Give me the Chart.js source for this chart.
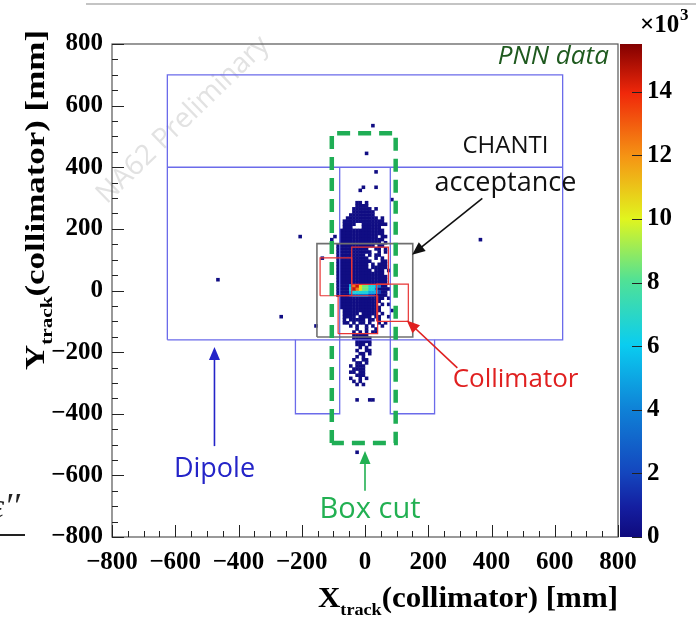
<!DOCTYPE html>
<html>
<head>
<meta charset="utf-8">
<script src="https://cdn.jsdelivr.net/npm/chart.js@4.4.0/dist/chart.umd.min.js"></script>
<style>
html, body { margin: 0; padding: 0; background: #fff; }
</style>
</head>
<body>
<canvas id="myChart" width="696" height="619"></canvas>
<script>
// track positions at the collimator, 10 mm bins
var binSize = 10;
var gridLeft = -110;   // left edge of column 0
var gridTop = 340;     // top edge of row 0
// one string per row of bins, top to bottom; '.' = empty, digits = count level
var cellRows = [
    "..........1...1......",
    ".........1...........",
    ".....................",
    ".....................",
    "...................1.",
    "........11.1.........",
    "........1111.........",
    ".......111111.1......",
    ".......1111111.......",
    "......11111111.......",
    ".....1111111111.1....",
    "....1111111111111....",
    "....1111..11111111...",
    "....111...111111.....",
    "...11111111111111....",
    "...11111111111111....",
    ".1.111111111111.11...",
    "1..11111111111111....",
    "...1111111111111.1...",
    "..111111111111.11....",
    "1.1111111111..11.1...",
    "..11111111111..1.1...",
    "..111111111.1.11.....",
    "..1111111111..1.1....",
    "..11111111111...11...",
    "..1111111111.1.111...",
    "..1111111111.11111...",
    "..11111111111.111.1..",
    "..111111111111111....",
    "..1111111111111111...",
    "..1111111111111111...",
    "..1111111111111111...",
    "..1111489766554311...",
    "..11115987665531111..",
    "..1111455555444211...",
    "..1111233333221111...",
    "...11111111111111.1..",
    "...1111111111111.....",
    "...111111111111.1.1..",
    "...1111111111111.....",
    "....111111111111...1.",
    "....11111.11111.1....",
    "....1111.1111.11..1..",
    "....1.11111.11.1.....",
    "....11.1.11.1..1.1...",
    "......1.1..1.1..1....",
    "........1..1..1......",
    ".......1.1.1.11......",
    ".......11111.........",
    ".......111111........",
    "........11111........",
    "........111.1........",
    ".........1.1.........",
    "........1..11........",
    ".........11.1........",
    "........1.1..........",
    ".......1..11.........",
    "........11.1.........",
    "......1.111..........",
    ".......1111..........",
    "......11.11..........",
    "........111..........",
    "......1..1.1.........",
    ".......1.1...........",
    "........1.1..........",
    ".....................",
    ".....................",
    ".....................",
    ".....................",
    "........1...11......."
];
// entries per bin for each level character
var levelCounts = { "1": 150, "2": 1800, "3": 3500, "4": 5000, "5": 6500, "6": 8500, "7": 10500, "8": 12500, "9": 14500 };
// isolated bins outside the main cloud [x, y, entries]
var strayCells = [
    [25, 535, 150], [5, 445, 150], [35, 385, 150], [-465, 35, 150], [-205, 175, 150],
    [365, 165, 150], [-265, -85, 150], [-155, -115, 150], [-135, 105, 150], [-25, -525, 150]
];

// axis ticks (mm) and colour scale ticks (x10^3 entries)
var axisTicks = [-800, -600, -400, -200, 0, 200, 400, 600, 800];
var zTicks = [0, 2, 4, 6, 8, 10, 12, 14];
var zMax = 15500;

// detector outlines in mm
var dipoleOuter = [[-625, -160], [-625, 700], [625, 700], [625, -160], [-625, -160]];
var dipoleMid = [[-625, 400], [625, 400]];
var dipoleLeft = [[-220, -160], [-220, -400], [-80, -400], [-80, 400]];
var dipoleRight = [[220, -160], [220, -400], [80, -400], [80, 400]];
var chantiBox = [-152, -151, 151, 152];          // x1, y1, x2, y2
var collimatorBoxes = [
    [-142, -17, -42, 106],
    [-42, 20, 74, 141],
    [37, -100, 137, 21],
    [-85, -140, 40, -17]
];
var boxCut = [-105, -495, 97, 510];

// ROOT style rainbow palette
var paletteStops = [
    [0.00, [15, 10, 125]],
    [0.06, [20, 30, 160]],
    [0.13, [20, 70, 190]],
    [0.26, [15, 130, 215]],
    [0.39, [10, 205, 240]],
    [0.52, [80, 225, 150]],
    [0.645, [225, 245, 30]],
    [0.77, [245, 150, 20]],
    [0.90, [240, 40, 10]],
    [1.00, [130, 0, 0]]
];
function rgb(c) { return "rgb(" + c[0] + "," + c[1] + "," + c[2] + ")"; }
function countColor(v) {
    var t = Math.max(0, Math.min(v / zMax, 1));
    for (var i = 1; i < paletteStops.length; i++) {
        var a = paletteStops[i - 1], b = paletteStops[i];
        if (t <= b[0]) {
            var f = (t - a[0]) / (b[0] - a[0]);
            return rgb([0, 1, 2].map(function (k) { return Math.round(a[1][k] + f * (b[1][k] - a[1][k])); }));
        }
    }
    return rgb(paletteStops[paletteStops.length - 1][1]);
}

// bins -> points
var cellData = [];
cellRows.forEach(function (row, r) {
    for (var c = 0; c < row.length; c++) {
        var ch = row.charAt(c);
        if (!levelCounts[ch]) continue;
        cellData.push({ x: gridLeft + binSize * (c + 0.5), y: gridTop - binSize * (r + 0.5), v: levelCounts[ch] });
    }
});
strayCells.forEach(function (s) { cellData.push({ x: s[0], y: s[1], v: s[2] }); });
cellData.sort(function (a, b) { return a.v - b.v; });

function pathData(pts) { return pts.map(function (p) { return { x: p[0], y: p[1] }; }); }
function rectPath(r) { return pathData([[r[0], r[1]], [r[0], r[3]], [r[2], r[3]], [r[2], r[1]], [r[0], r[1]]]); }
function outline(pts, color, width, order, dash) {
    return {
        data: pts, showLine: true, borderColor: color, borderWidth: width, borderDash: dash || [],
        pointRadius: 0, fill: false, tension: 0, order: order
    };
}
function cellRadius(chart) {
    var s = chart.scales.x;
    var w = Math.abs(s.getPixelForValue(binSize) - s.getPixelForValue(0));
    return w / 2 / Math.SQRT1_2 + 0.3;
}
function minusLabel(v) { return v < 0 ? "\u2212" + Math.abs(v) : "" + v; }

var datasets = [];
datasets.push(outline(rectPath(boxCut), "#1fae55", 4.5, 0, [13, 8]));
collimatorBoxes.forEach(function (b) { datasets.push(outline(rectPath(b), "#e83535", 1.2, 2)); });
datasets.push(outline(rectPath(chantiBox), "#707070", 1.6, 1));
[dipoleOuter, dipoleMid, dipoleLeft, dipoleRight].forEach(function (p) {
    datasets.push(outline(pathData(p), "#6b6bea", 1.3, 3));
});
datasets.push({
    data: cellData,
    order: 10,
    pointStyle: "rect",
    pointBorderWidth: 0,
    pointRadius: function (ctx) { return cellRadius(ctx.chart); },
    pointBackgroundColor: function (ctx) { return ctx.raw ? countColor(ctx.raw.v) : "#000"; }
});

var serif = '"Liberation Serif", "Times New Roman", serif';
var sans = '"Open Sans", "Noto Sans", sans-serif';

// text and arrows placed in mm
var notes = [
    { text: "PNN data", x: 771, y: 759, color: "#1f5a1f", font: "italic 26px " + sans, align: "right" },
    { text: "CHANTI", x: 444, y: 468, color: "#111", font: "24px " + sans, align: "center" },
    { text: "acceptance", x: 444, y: 347, color: "#111", font: "27px " + sans, align: "center" },
    { text: "Collimator", x: 476, y: -289, color: "#e02020", font: "26px " + sans, align: "center" },
    { text: "Dipole", x: -476, y: -579, color: "#2424c8", font: "27px " + sans, align: "center" },
    { text: "Box cut", x: 16, y: -711, color: "#22b052", font: "29px " + sans, align: "center" }
];
var arrows = [
    { from: [371, 299], to: [149, 116], color: "#111" },
    { from: [292, -251], to: [132, -97], color: "#e02020" },
    { from: [-476, -505], to: [-476, -183], color: "#2424c8" },
    { from: [0, -650], to: [0, -521], color: "#22b052" }
];

function drawArrow(ctx, x0, y0, x1, y1, color) {
    var a = Math.atan2(y1 - y0, x1 - x0), L = 13, W = 5.5;
    ctx.save();
    ctx.strokeStyle = color; ctx.fillStyle = color; ctx.lineWidth = 1.6;
    ctx.beginPath();
    ctx.moveTo(x0, y0);
    ctx.lineTo(x1 - Math.cos(a) * L * 0.8, y1 - Math.sin(a) * L * 0.8);
    ctx.stroke();
    ctx.beginPath();
    ctx.moveTo(x1, y1);
    ctx.lineTo(x1 - Math.cos(a) * L - Math.sin(a) * W, y1 - Math.sin(a) * L + Math.cos(a) * W);
    ctx.lineTo(x1 - Math.cos(a) * L + Math.sin(a) * W, y1 - Math.sin(a) * L - Math.cos(a) * W);
    ctx.closePath();
    ctx.fill();
    ctx.restore();
}

// axis title with a subscript, stretched along the text to the given length
function drawTitle(ctx, ax, ay, angle, letter, sub, rest, size, length) {
    var big = "bold " + size + "px " + serif;
    var small = "bold " + Math.round(size * 0.6) + "px " + serif;
    ctx.save();
    ctx.font = big;
    var w1 = ctx.measureText(letter).width, w3 = ctx.measureText(rest).width;
    ctx.font = small;
    var w2 = ctx.measureText(sub).width;
    var total = w1 + w2 + w3;
    ctx.translate(ax, ay);
    ctx.rotate(angle);
    ctx.scale(length / total, 1);
    ctx.fillStyle = "#000";
    ctx.textBaseline = "alphabetic";
    ctx.textAlign = "left";
    ctx.font = big;
    ctx.fillText(letter, -total, 0);
    ctx.font = small;
    ctx.fillText(sub, -total + w1, size * 0.28);
    ctx.font = big;
    ctx.fillText(rest, -total + w1 + w2, 0);
    ctx.restore();
}

var histDecor = {
    id: "histDecor",
    beforeDraw: function (chart) {
        var ctx = chart.ctx;
        ctx.save();
        ctx.fillStyle = "#fff";
        ctx.fillRect(0, 0, chart.width, chart.height);
        // slide rule line and clipped text at the edges
        ctx.strokeStyle = "#c4c4c4"; ctx.lineWidth = 2;
        ctx.beginPath(); ctx.moveTo(86, 4); ctx.lineTo(chart.width, 4); ctx.stroke();
        ctx.fillStyle = "#222";
        ctx.font = "italic 36px " + serif;
        ctx.fillText("\u03b5\u2032\u2032", -10, 518);
        ctx.strokeStyle = "#222"; ctx.lineWidth = 2;
        ctx.beginPath(); ctx.moveTo(0, 535); ctx.lineTo(25, 535); ctx.stroke();
        ctx.restore();
    },
    beforeDatasetsDraw: function (chart) {
        var ctx = chart.ctx;
        ctx.save();
        ctx.translate(183, 120);
        ctx.rotate(-44 * Math.PI / 180);
        ctx.fillStyle = "#e2e2e2";
        ctx.font = "28px " + sans;
        ctx.textAlign = "center";
        ctx.textBaseline = "middle";
        ctx.fillText("NA62 Preliminary", 0, 0);
        ctx.restore();
    },
    afterDatasetsDraw: function (chart) {
        var ctx = chart.ctx, area = chart.chartArea;
        var xs = chart.scales.x, ys = chart.scales.y, zs = chart.scales.z;
        ctx.save();

        // frame and inward ticks
        ctx.strokeStyle = "#555"; ctx.lineWidth = 1.2;
        ctx.strokeRect(area.left, area.top, area.right - area.left, area.bottom - area.top);
        ctx.strokeStyle = "#222"; ctx.lineWidth = 1;
        ctx.beginPath();
        for (var v = -800; v <= 800; v += 50) {
            var len = v % 200 === 0 ? 12 : 6;
            var px = Math.round(xs.getPixelForValue(v)) + 0.5;
            ctx.moveTo(px, area.bottom); ctx.lineTo(px, area.bottom - len);
            var py = Math.round(ys.getPixelForValue(v)) + 0.5;
            ctx.moveTo(area.left, py); ctx.lineTo(area.left + len, py);
        }
        ctx.stroke();

        // colour bar
        var bx = area.right + 2, bw = 22;
        var g = ctx.createLinearGradient(0, zs.getPixelForValue(0), 0, zs.getPixelForValue(zMax));
        paletteStops.forEach(function (s) { g.addColorStop(s[0], rgb(s[1])); });
        ctx.fillStyle = g;
        ctx.fillRect(bx, zs.top, bw, zs.bottom - zs.top);
        ctx.strokeStyle = "#222";
        ctx.beginPath();
        zTicks.forEach(function (t) {
            var py = Math.round(zs.getPixelForValue(t * 1000)) + 0.5;
            ctx.moveTo(bx + bw - 10, py); ctx.lineTo(bx + bw, py);
        });
        ctx.stroke();
        ctx.fillStyle = "#000";
        ctx.textBaseline = "alphabetic";
        ctx.textAlign = "left";
        ctx.font = "bold 25px " + serif;
        ctx.fillText("\u00d710", 640, 32);
        ctx.font = "bold 17px " + serif;
        ctx.fillText("3", 680, 20);

        // annotations
        notes.forEach(function (n) {
            ctx.font = n.font;
            ctx.fillStyle = n.color;
            ctx.textAlign = n.align;
            ctx.textBaseline = "middle";
            ctx.fillText(n.text, xs.getPixelForValue(n.x), ys.getPixelForValue(n.y));
        });
        arrows.forEach(function (a) {
            drawArrow(ctx, xs.getPixelForValue(a.from[0]), ys.getPixelForValue(a.from[1]),
                xs.getPixelForValue(a.to[0]), ys.getPixelForValue(a.to[1]), a.color);
        });
        ctx.restore();

        // axis titles
        drawTitle(ctx, area.right, 607, 0, "X", "track", "(collimator) [mm]", 29, 300);
        drawTitle(ctx, 44, 30, -Math.PI / 2, "Y", "track", "(collimator) [mm]", 28, 340);
    }
};

var tickFont = { family: serif, weight: "bold", size: 25 };
new Chart(document.getElementById("myChart"), {
    type: "scatter",
    data: { datasets: datasets },
    options: {
        responsive: false,
        animation: false,
        devicePixelRatio: 1,
        events: [],
        layout: { padding: { top: 40, left: 0, right: 0, bottom: 0 } },
        plugins: { legend: { display: false }, tooltip: { enabled: false } },
        scales: {
            x: {
                type: "linear", min: -800, max: 800,
                grid: { display: false, drawTicks: false }, border: { display: false },
                afterBuildTicks: function (s) { s.ticks = axisTicks.map(function (v) { return { value: v }; }); },
                afterFit: function (s) { s.height = 82; },
                ticks: { font: tickFont, color: "#000", padding: 11, autoSkip: false, maxRotation: 0, callback: minusLabel }
            },
            y: {
                type: "linear", min: -800, max: 800,
                grid: { display: false, drawTicks: false }, border: { display: false },
                afterBuildTicks: function (s) { s.ticks = axisTicks.map(function (v) { return { value: v }; }); },
                afterFit: function (s) { s.width = 112; },
                ticks: { font: tickFont, color: "#000", padding: 9, autoSkip: false, callback: minusLabel }
            },
            z: {
                type: "linear", position: "right", min: 0, max: zMax,
                grid: { display: false, drawTicks: false }, border: { display: false },
                afterBuildTicks: function (s) { s.ticks = zTicks.map(function (v) { return { value: v * 1000 }; }); },
                afterFit: function (s) { s.width = 78; },
                ticks: { font: tickFont, color: "#000", padding: 29, autoSkip: false, callback: function (v) { return "" + v / 1000; } }
            }
        }
    },
    plugins: [histDecor]
});
</script>
</body>
</html>
